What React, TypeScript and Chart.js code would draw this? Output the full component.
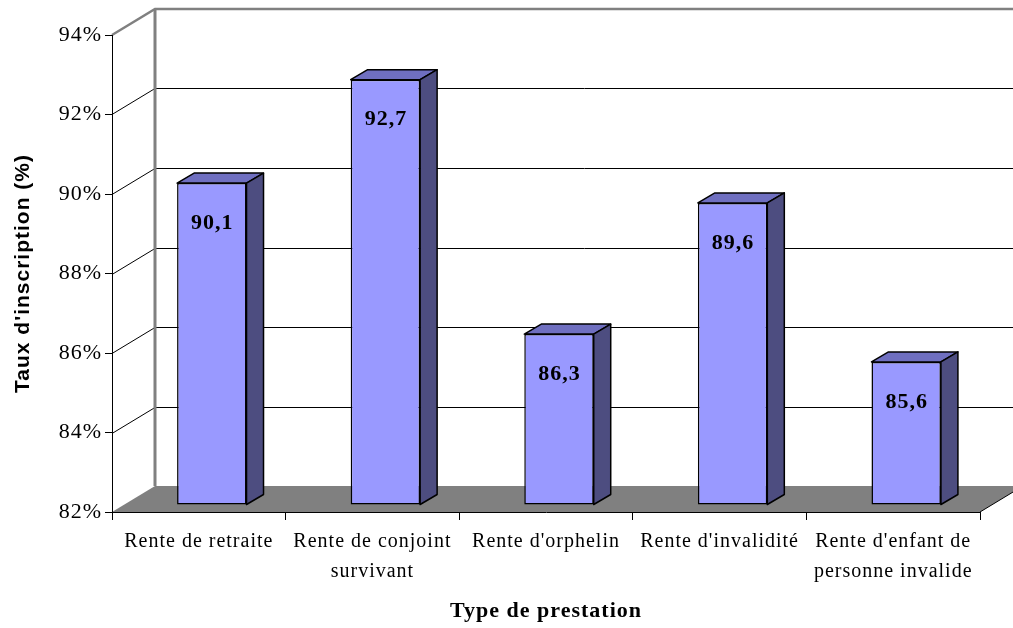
import React, { useEffect, useRef } from 'react';
import { Chart, registerables } from 'chart.js';

Chart.register(...registerables);

const categories: (string | string[])[] = [
  'Rente de retraite',
  ['Rente de conjoint', 'survivant'],
  "Rente d'orphelin",
  "Rente d'invalidité",
  ["Rente d'enfant de", 'personne invalide'],
];
const values: number[] = [90.1, 92.7, 86.3, 89.6, 85.6];
const yMin = 82;
const yMax = 94;
const yStep = 2;
const yTitle = "Taux d'inscription (%)";
const xTitle = 'Type de prestation';

const SERIF = "'Liberation Serif', 'Times New Roman', serif";
const SANS = "'Liberation Sans', Arial, sans-serif";

const WALL = { dx: 43, dy: -26 };
const BAR_SHIFT = { dx: 13, dy: -7 };
const BAR_DEPTH = { dx: 17, dy: -10 };

const FRONT = '#9999FF';
const TOP = '#6F6FC0';
const SIDE = '#4D4D80';
const GREY = '#808080';

function poly(ctx: CanvasRenderingContext2D, pts: number[][]) {
  ctx.beginPath();
  ctx.moveTo(pts[0][0], pts[0][1]);
  for (let i = 1; i < pts.length; i++) ctx.lineTo(pts[i][0], pts[i][1]);
  ctx.closePath();
}

const threeD = {
  id: 'threeD',
  beforeDraw(chart: any) {
    const ctx: CanvasRenderingContext2D = chart.ctx;
    (ctx as any).letterSpacing = '1px';
    const a = chart.chartArea;
    const y = chart.scales.y;
    const W = chart.width + 60;
    ctx.save();
    // floor
    poly(ctx, [
      [a.left, a.bottom],
      [a.right, a.bottom],
      [a.right + WALL.dx, a.bottom + WALL.dy],
      [a.left + WALL.dx, a.bottom + WALL.dy],
    ]);
    ctx.fillStyle = GREY;
    ctx.fill();
    // gridlines (side wall diagonals + back wall horizontals)
    ctx.strokeStyle = '#000';
    ctx.lineWidth = 1;
    for (let v = yMin + yStep; v < yMax; v += yStep) {
      const py = Math.round(y.getPixelForValue(v)) + 0.5;
      ctx.beginPath();
      ctx.moveTo(a.left, py);
      ctx.lineTo(a.left + WALL.dx, py + WALL.dy);
      ctx.lineTo(W, py + WALL.dy);
      ctx.stroke();
    }
    // wall edges
    ctx.strokeStyle = GREY;
    ctx.lineWidth = 2.5;
    const topY = y.getPixelForValue(yMax);
    ctx.beginPath();
    ctx.moveTo(a.left, topY);
    ctx.lineTo(a.left + WALL.dx, topY + WALL.dy);
    ctx.lineTo(W, topY + WALL.dy);
    ctx.stroke();
    ctx.lineWidth = 3;
    ctx.beginPath();
    ctx.moveTo(a.left + WALL.dx, topY + WALL.dy);
    ctx.lineTo(a.left + WALL.dx, a.bottom + WALL.dy);
    ctx.stroke();
    // floor right edge
    ctx.strokeStyle = '#000';
    ctx.lineWidth = 1;
    ctx.beginPath();
    ctx.moveTo(a.right, a.bottom);
    ctx.lineTo(a.right + WALL.dx, a.bottom + WALL.dy);
    ctx.stroke();
    ctx.restore();
  },
  beforeDatasetsDraw(chart: any) {
    const ctx: CanvasRenderingContext2D = chart.ctx;
    const meta = chart.getDatasetMeta(0);
    ctx.save();
    ctx.strokeStyle = '#000';
    ctx.lineWidth = 1.5;
    ctx.lineJoin = 'round';
    meta.data.forEach((el: any) => {
      const { x, y, base, width } = el.getProps(['x', 'y', 'base', 'width'], true);
      const x0 = x - width / 2 + BAR_SHIFT.dx;
      const x1 = x + width / 2 + BAR_SHIFT.dx;
      const t = y + BAR_SHIFT.dy;
      const b = base + BAR_SHIFT.dy;
      poly(ctx, [
        [x0, t],
        [x1, t],
        [x1 + BAR_DEPTH.dx, t + BAR_DEPTH.dy],
        [x0 + BAR_DEPTH.dx, t + BAR_DEPTH.dy],
      ]);
      ctx.fillStyle = TOP;
      ctx.fill();
      ctx.stroke();
      poly(ctx, [
        [x1, t],
        [x1 + BAR_DEPTH.dx, t + BAR_DEPTH.dy],
        [x1 + BAR_DEPTH.dx, b + BAR_DEPTH.dy],
        [x1, b],
      ]);
      ctx.fillStyle = SIDE;
      ctx.fill();
      ctx.stroke();
    });
    ctx.restore();
    ctx.save();
    ctx.translate(BAR_SHIFT.dx, BAR_SHIFT.dy);
  },
  afterDatasetsDraw(chart: any) {
    const ctx: CanvasRenderingContext2D = chart.ctx;
    ctx.restore();
    const meta = chart.getDatasetMeta(0);
    ctx.save();
    ctx.fillStyle = '#000';
    ctx.font = `bold 22px ${SERIF}`;
    ctx.textAlign = 'center';
    ctx.textBaseline = 'middle';
    meta.data.forEach((el: any, i: number) => {
      const { x, y } = el.getProps(['x', 'y'], true);
      const txt = values[i].toFixed(1).replace('.', ',');
      ctx.fillText(txt, x + BAR_SHIFT.dx + 0.5, y + BAR_SHIFT.dy + 40);
    });
    ctx.restore();
  },
};

export default function App() {
  const ref = useRef<HTMLCanvasElement | null>(null);
  useEffect(() => {
    if (!ref.current) return;
    const chart = new Chart(ref.current, {
      type: 'bar',
      data: {
        labels: categories as any,
        datasets: [
          {
            data: values,
            base: yMin,
            backgroundColor: FRONT,
            borderColor: '#000',
            borderWidth: 1.5,
            borderSkipped: false,
            barPercentage: 0.4,
            categoryPercentage: 1,
            clip: false as any,
          } as any,
        ],
      },
      options: {
        responsive: false,
        animation: false,
        events: [],
        layout: { padding: { left: 0, right: 33, top: 35, bottom: 0 } },
        plugins: {
          legend: { display: false },
          tooltip: { enabled: false },
        },
        scales: {
          x: {
            grid: {
              offset: true,
              drawOnChartArea: false,
              drawTicks: true,
              tickLength: 8,
              color: '#000',
            },
            border: { display: true, color: '#000', width: 1 },
            ticks: {
              color: '#000',
              font: { family: SERIF, size: 20, lineHeight: 1.5 },
              padding: 7,
              maxRotation: 0,
              autoSkip: false,
            },
            title: {
              display: true,
              text: xTitle,
              color: '#000',
              font: { family: SERIF, size: 22, weight: 'bold' },
              padding: { top: 0, bottom: 3 },
            },
            afterFit: (s: any) => {
              s.height = 116;
            },
          },
          y: {
            min: yMin,
            max: yMax,
            grid: {
              drawOnChartArea: false,
              drawTicks: true,
              tickLength: 7,
              color: '#000',
            },
            border: { display: true, color: '#000', width: 1 },
            ticks: {
              stepSize: yStep,
              color: '#000',
              font: { family: SERIF, size: 22 },
              padding: 3,
              callback: (v: any) => `${v}%`,
            },
            title: {
              display: true,
              text: yTitle,
              color: '#000',
              font: { family: SANS, size: 21, weight: 'bold' },
              padding: { top: 11, bottom: 0 },
            },
            afterFit: (s: any) => {
              s.width = 112;
            },
          },
        },
      },
      plugins: [threeD as any],
    });
    return () => chart.destroy();
  }, []);
  return (
    <div style={{ position: 'absolute', left: 0, top: 0, width: 1013, height: 628, background: '#fff' }}>
      <canvas ref={ref} width={1013} height={628} style={{ width: 1013, height: 628, display: 'block' }} />
    </div>
  );
}
